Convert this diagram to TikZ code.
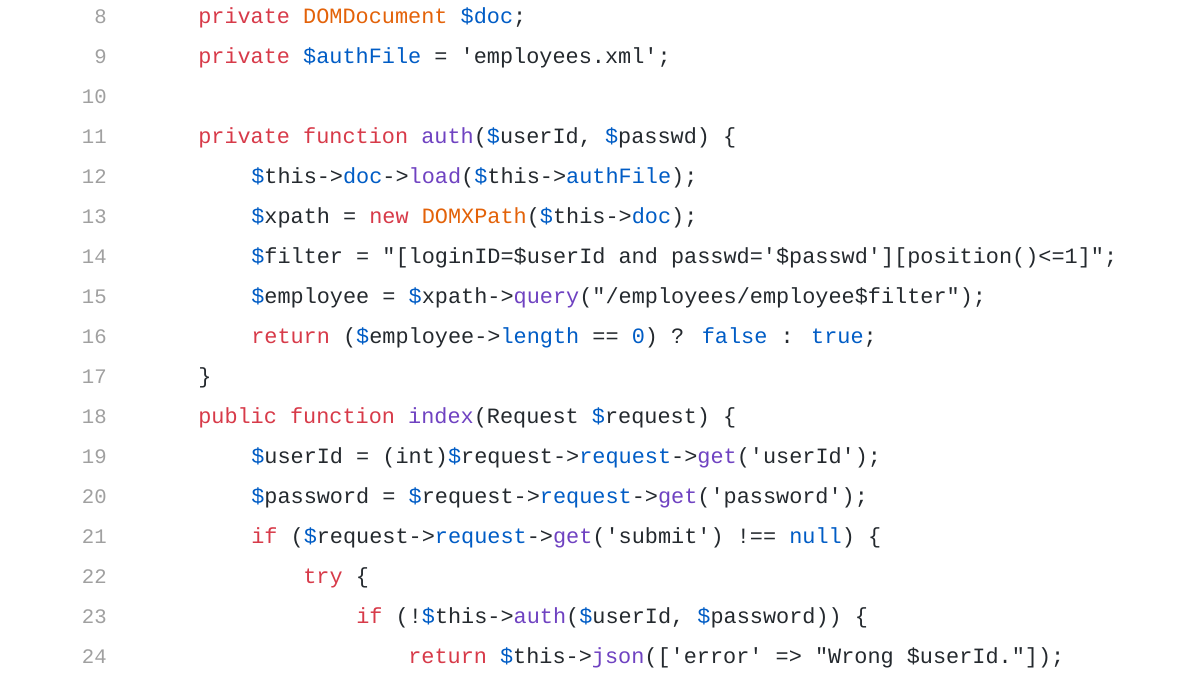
\documentclass[tikz,border=0pt]{standalone}
\usepackage{fontspec}
\newfontfamily\codefont{Liberation Mono}
\definecolor{kwc}{HTML}{D73A49}
\definecolor{tyc}{HTML}{E36209}
\definecolor{blc}{HTML}{005CC5}
\definecolor{fnc}{HTML}{6F42C1}
\definecolor{txc}{HTML}{24292E}
\definecolor{lnc}{HTML}{A0A0A0}
\newcommand\kwd[1]{\textcolor{kwc}{#1}}
\newcommand\typ[1]{\textcolor{tyc}{#1}}
\newcommand\blu[1]{\textcolor{blc}{#1}}
\newcommand\cfn[1]{\textcolor{fnc}{#1}}
\newcommand\dl{\textcolor{blc}{\$}}
\begin{document}
\begin{tikzpicture}[x=0.75pt,y=-0.75pt,
  code/.style={anchor=base west,inner sep=0pt,font=\codefont\fontsize{16.4}{20}\selectfont,text=txc},
  lnum/.style={anchor=base east,inner sep=0pt,font=\codefont\fontsize{15.5}{20}\selectfont,text=lnc}]
\useasboundingbox (0,0) rectangle (1200,675);
\foreach \n [count=\i from 0] in {8,...,24}
  \node[lnum] (n\n) at (107,{23+40*\i}) {\n};
\node[code] (l8) at (198,23) {\kwd{private} \typ{DOMDocument} \blu{\$doc};};
\node[code] (l9) at (198,63) {\kwd{private} \blu{\$authFile} = 'employees.xml';};
\node[code] (l11) at (198,143) {\kwd{private} \kwd{function} \cfn{auth}(\dl userId, \dl passwd) \{};
\node[code] (l12) at (251,183) {\dl this->\blu{doc}->\cfn{load}(\dl this->\blu{authFile});};
\node[code] (l13) at (251,223) {\dl xpath = \kwd{new} \typ{DOMXPath}(\dl this->\blu{doc});};
\node[code] (l14) at (251,263) {\dl filter = "[loginID=\$userId and passwd='\$passwd'][position()<=1]";};
\node[code] (l15) at (251,303) {\dl employee = \dl xpath->\cfn{query}("/employees/employee\$filter");};
\node[code] (l16) at (251,343) {\kwd{return} (\dl employee->\blu{length} == \blu{0}) ? \blu{false} : \blu{true};};
\node[code] (l17) at (198,383) {\}};
\node[code] (l18) at (198,423) {\kwd{public} \kwd{function} \cfn{index}(Request \dl request) \{};
\node[code] (l19) at (251,463) {\dl userId = (int)\dl request->\blu{request}->\cfn{get}('userId');};
\node[code] (l20) at (251,503) {\dl password = \dl request->\blu{request}->\cfn{get}('password');};
\node[code] (l21) at (251,543) {\kwd{if} (\dl request->\blu{request}->\cfn{get}('submit') !== \blu{null}) \{};
\node[code] (l22) at (303,583) {\kwd{try} \{};
\node[code] (l23) at (356,623) {\kwd{if} (!\dl this->\cfn{auth}(\dl userId, \dl password)) \{};
\node[code] (l24) at (408,663) {\kwd{return} \dl this->\cfn{json}(['error' => "Wrong \$userId."]);};
\end{tikzpicture}
\end{document}
